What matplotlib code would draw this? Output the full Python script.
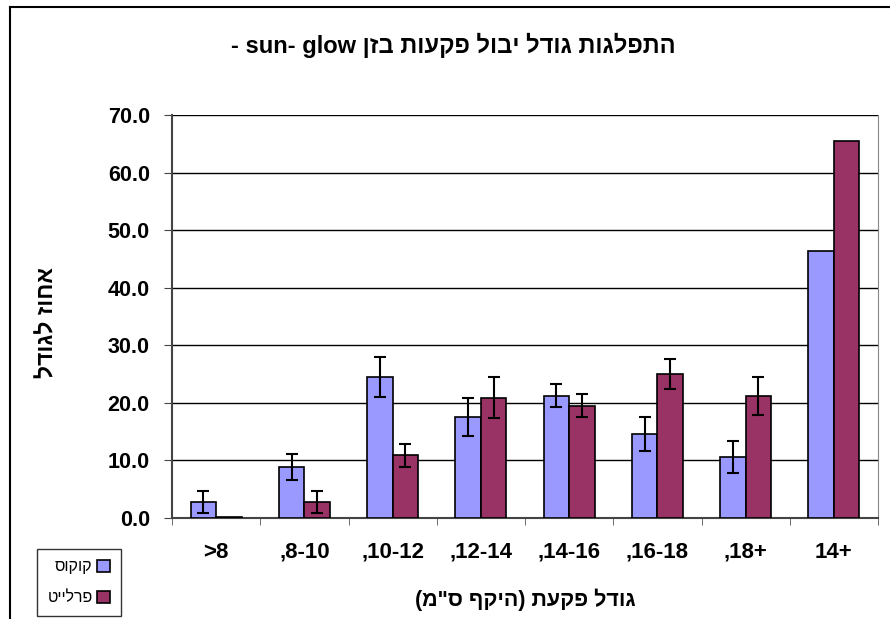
import numpy as np
import matplotlib
matplotlib.use("Agg")
import matplotlib.pyplot as plt
from matplotlib.lines import Line2D

plt.rcParams['font.family'] = ['Liberation Sans', 'DejaVu Sans']

def heb(s):
    # matplotlib has no bidi: reverse for visual order, mirror brackets
    r = s[::-1]
    return r.translate(str.maketrans('()', ')('))

categories = ['>8', ',8-10', ',10-12', ',12-14', ',14-16', ',16-18', ',18+', '14+']
kokos = [2.8, 8.9, 24.5, 17.6, 21.2, 14.6, 10.6, 46.3]
kokos_err = [1.9, 2.3, 3.4, 3.3, 2.0, 3.0, 2.7, 0]
perlite = [0.1, 2.8, 10.9, 20.9, 19.5, 25.0, 21.2, 65.5]
perlite_err = [0, 1.9, 2.0, 3.6, 2.0, 2.6, 3.3, 0]

fig = plt.figure(figsize=(8.9, 6.19), dpi=100)
ax = fig.add_axes([172/890, 1-518/619, (878-172)/890, (518-115)/619])

x = np.arange(len(categories))
w = 0.29
ax.bar(x - w/2, kokos, w, color='#9999FF', edgecolor='black', linewidth=1.2,
       label=heb('קוקוס'), zorder=3)
ax.bar(x + w/2, perlite, w, color='#993366', edgecolor='black', linewidth=1.2,
       label=heb('פרלייט'), zorder=3)
ke = np.array(kokos_err)
pe = np.array(perlite_err)
m1 = ke > 0
m2 = pe > 0
ax.errorbar((x - w/2)[m1], np.array(kokos)[m1], yerr=ke[m1], fmt='none',
            ecolor='black', elinewidth=1.5, capsize=4.5, capthick=1.5, zorder=4)
ax.errorbar((x + w/2)[m2], np.array(perlite)[m2], yerr=pe[m2], fmt='none',
            ecolor='black', elinewidth=1.5, capsize=4.5, capthick=1.5, zorder=4)

ax.set_xlim(-0.5, len(categories) - 0.5)
ax.set_ylim(0, 70)
ax.set_yticks(np.arange(0, 71, 10))
ax.set_yticklabels(['%.1f' % v for v in np.arange(0, 71, 10)],
                   fontsize=15.5, fontweight='bold')
ax.yaxis.grid(True, color='black', linewidth=1)
ax.set_axisbelow(True)

ax.set_xticks(x)
ax.set_xticklabels(categories, fontsize=16, fontweight='bold')
ax.tick_params(axis='x', length=0, pad=17)
ax.set_xticks(np.arange(-0.5, len(categories), 1), minor=True)
ax.tick_params(axis='x', which='minor', length=5, color='#555555', direction='out')
ax.tick_params(axis='y', length=6, direction='out', pad=10, color='#444444')

for s in ['left', 'bottom']:
    ax.spines[s].set_color('#444444')
    ax.spines[s].set_linewidth(1.5)
ax.spines['top'].set_visible(False)
ax.spines['right'].set_color('#888888')

ax.set_xlabel(heb('גודל פקעת (היקף ס"מ)'), fontsize=15.5, fontweight='bold', labelpad=19)
fig.text(47/890, 1-323/619, heb('אחוז לגודל'), rotation=90, fontsize=16.5,
         fontweight='bold', ha='center', va='center')
fig.text(453/890, 1-45/619, '- sun- glow ' + heb('התפלגות גודל יבול פקעות בזן'),
         fontsize=17, fontweight='bold', ha='center', va='center')

fig.legend(loc='upper left', bbox_to_anchor=(37/890, 1-549/619), markerfirst=False,
           fontsize=11.5, frameon=True, fancybox=False, edgecolor='black',
           handlelength=0.8, handleheight=0.8, handletextpad=0.3,
           labelspacing=1.0, borderpad=0.65, borderaxespad=0)

fig.add_artist(Line2D([10/890, 1], [1-7/619, 1-7/619], color='black', linewidth=1.5))
fig.add_artist(Line2D([10/890, 10/890], [0, 1-7/619], color='black', linewidth=1.5))

fig.savefig('out.png', dpi=100)
